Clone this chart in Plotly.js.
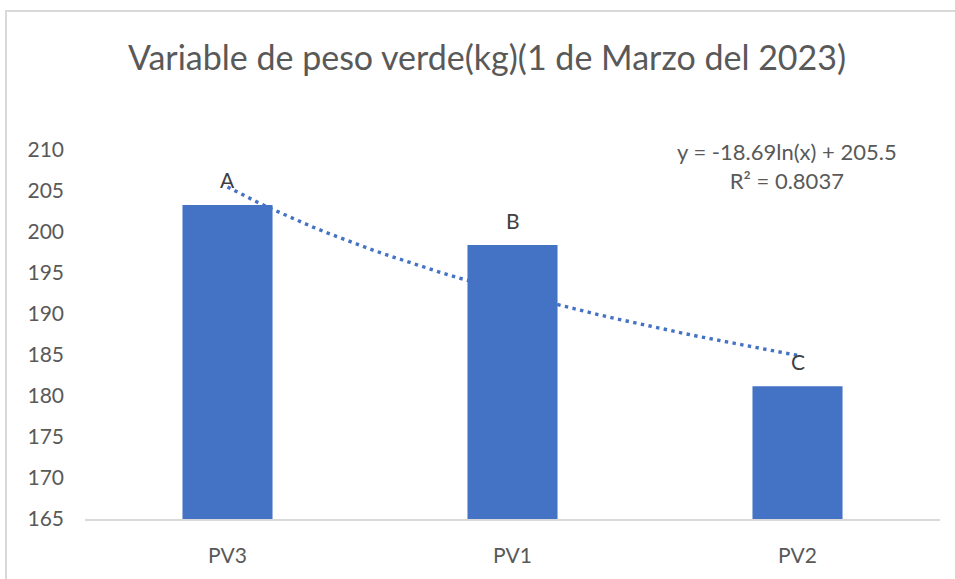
<!DOCTYPE html>
<html>
<head>
<meta charset="utf-8">
<script src="https://cdn.plot.ly/plotly-3.0.1.min.js"></script>
<style>
  html, body { margin: 0; padding: 0; background: #ffffff; }
  #chart { position: absolute; left: 0; top: 0; width: 955px; height: 579px; }
  #frame { position: absolute; left: 5px; top: 10px; width: 960px; height: 580px;
           border-left: 2px solid #D9D9D9; border-top: 2px solid #D9D9D9; pointer-events: none; }
</style>
</head>
<body>
<div id="chart"></div>
<div id="frame"></div>
<script>
// ---- data ----
const categories = ["PV3", "PV1", "PV2"];
const positions = [1, 2, 3];
const values = [203.3, 198.4, 181.2];
const letters = ["A", "B", "C"];
// logarithmic trend line shown on the chart: y = -18.69 ln(x) + 205.5
const trendSlope = -18.69;
const trendIntercept = 205.5;
const trendLabel = "y = -18.69ln(x) + 205.5<br>R² = 0.8037";
const chartTitle = "Variable de peso verde(kg)(1 de Marzo del 2023)";
const yTicks = [165, 170, 175, 180, 185, 190, 195, 200, 205, 210];

const trendX = [];
const trendY = [];
for (let i = 0; i <= 40; i++) {
  const x = positions[0] + (positions[positions.length - 1] - positions[0]) * i / 40;
  trendX.push(x);
  trendY.push(trendSlope * Math.log(x) + trendIntercept);
}

const textColor = "#595959";
const font = "Lato, 'Open Sans', sans-serif";

const traces = [
  {
    type: "scatter", mode: "lines", x: trendX, y: trendY,
    line: { color: "#4472C4", width: 3.4, dash: "3.4px,4.4px" },
    hoverinfo: "skip", showlegend: false
  },
  {
    type: "bar", x: positions, y: values, width: 0.316,
    marker: { color: "#4472C4" },
    hoverinfo: "skip", showlegend: false
  }
];

const annotations = letters.map((t, i) => ({
  x: positions[i], y: values[i], xref: "x", yref: "y",
  text: t, showarrow: false, yshift: 25, yanchor: "middle",
  font: { family: font, size: 21, color: "#404040" }
}));
annotations.push({
  xref: "paper", yref: "paper", x: (787 - 85) / 855, y: (519 - 166) / 369,
  text: trendLabel, showarrow: false, align: "center",
  xanchor: "center", yanchor: "middle",
  font: { family: font, size: 22, color: textColor }
});

const layout = {
  width: 955, height: 579,
  margin: { l: 85, r: 15, t: 150, b: 60 },
  paper_bgcolor: "rgba(0,0,0,0)", plot_bgcolor: "rgba(0,0,0,0)",
  title: {
    text: chartTitle, xref: "container", yref: "container",
    x: 487 / 955, xanchor: "center", y: 1 - 58 / 579, yanchor: "middle",
    font: { family: font, size: 34, color: textColor }
  },
  xaxis: {
    range: [0.5, 3.5], tickvals: positions, ticktext: categories,
    showgrid: false, zeroline: false, showline: true, linecolor: "#D9D9D9", linewidth: 1.5,
    ticks: "", ticklabelstandoff: 17,
    tickfont: { family: font, size: 21, color: textColor }
  },
  yaxis: {
    range: [165, 210], tickvals: yTicks, showgrid: false, zeroline: false, showline: false,
    ticks: "", ticklabelstandoff: 20,
    tickfont: { family: font, size: 21, color: textColor }
  },
  annotations: annotations,
  hovermode: false
};

Plotly.newPlot("chart", traces, layout, { displayModeBar: false, staticPlot: true });
</script>
</body>
</html>
